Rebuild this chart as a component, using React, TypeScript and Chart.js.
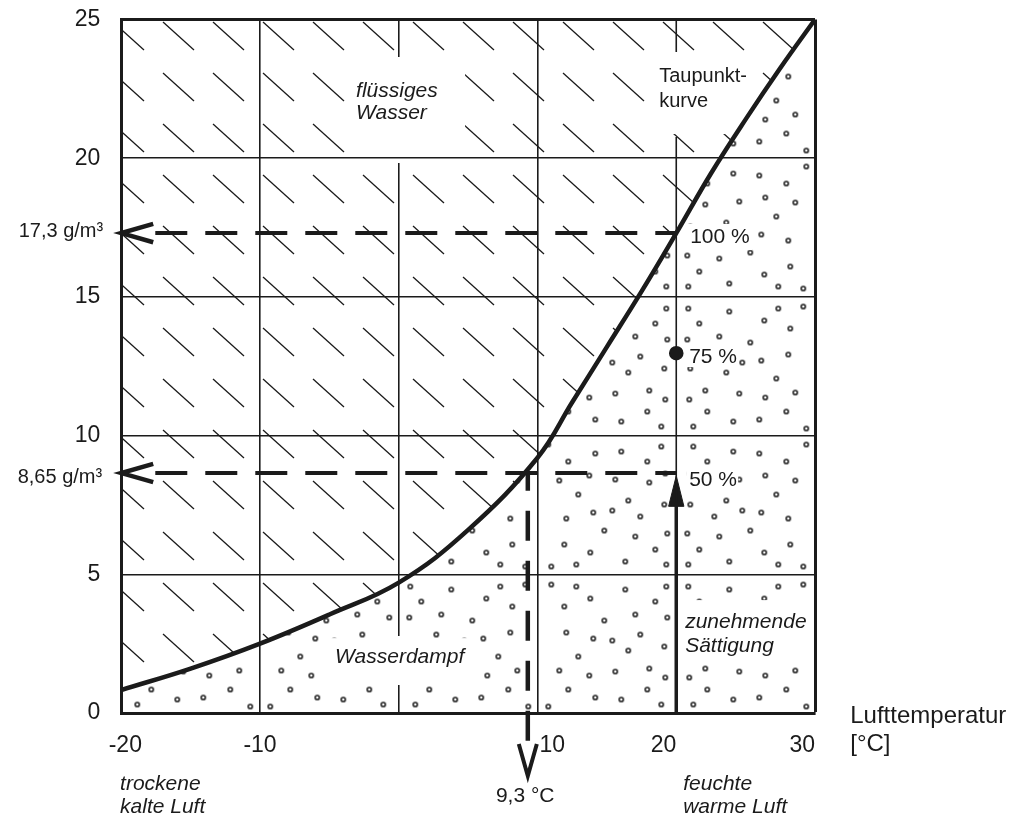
import React, { useEffect, useRef } from 'react';
import { Chart, registerables } from 'chart.js';

Chart.register(...registerables);

// ---- data ----
const curveTemps = [-20, -15, -10, -5, 0, 5, 10, 12.5, 15, 17.5, 20, 22.5, 25, 27.5, 30];
const curveDensity = [0.83, 1.6, 2.5, 3.55, 4.7, 6.6, 9.2, 11.2, 13.2, 15.2, 17.3, 19.45, 21.4, 23.25, 25];
const xTickValues = [-20, -10, 10, 20, 30];
const xTickLabels = ['-20', '-10', '10', '20', '30'];
const airTemp = 20;
const saturationDensity = 17.3;
const actualDensity = 8.65;
const dewPoint = 9.3;
const saturationLevels = [100, 75, 50];
const saturationValues = [17.3, 12.97, 8.65];

const ink = '#1b1b1b';
const FAM = '"Liberation Sans", Arial, Helvetica, sans-serif';
const reg = (s: number) => `${s}px ${FAM}`;
const ita = (s: number) => `italic ${s}px ${FAM}`;
const de = (v: number) => String(v).replace('.', ',');

// dot texture positions inside one 139x139 cell
const dotCell: [number, number][] = [
  [11, 11], [52, 14], [101, 11], [126, 9], [22, 26], [87, 23], [113, 31], [10, 42], [42, 39],
  [73, 45], [37, 59], [65, 65], [84, 63], [111, 57], [13, 71], [49, 75], [99, 81], [28, 93],
  [62, 96], [88, 100], [118, 95], [12, 102], [30, 114], [109, 114], [16, 129], [56, 124],
  [82, 122], [129, 131],
];

function makeHatch(ctx: CanvasRenderingContext2D) {
  const c = document.createElement('canvas');
  c.width = 50; c.height = 51;
  const g = c.getContext('2d')!;
  g.strokeStyle = ink; g.lineWidth = 1.3; g.lineCap = 'butt';
  g.beginPath(); g.moveTo(4, 3); g.lineTo(35, 31); g.stroke();
  return ctx.createPattern(c, 'repeat')!;
}

function makeDots(ctx: CanvasRenderingContext2D) {
  const S = 139;
  const c = document.createElement('canvas');
  c.width = S * 2; c.height = S * 2;
  const g = c.getContext('2d')!;
  g.strokeStyle = ink; g.lineWidth = 1.5;
  const variants = [
    [0, 0, false, false], [S, 0, true, false], [0, S, false, true], [S, S, true, true],
  ] as const;
  for (const [ox, oy, mx, my] of variants) {
    for (const [x, y] of dotCell) {
      const px = ox + (mx ? S - x : x);
      const py = oy + (my ? S - y : y);
      g.beginPath(); g.arc(px, py, 2.1, 0, Math.PI * 2); g.stroke();
    }
  }
  return ctx.createPattern(c, 'repeat')!;
}

// white areas around the labels (data units: x0, x1, y0, y1)
const clearBoxes: [number, number, number, number][] = [
  [-3.87, 4.78, 20.08, 23.65],
  [18.47, 25.4, 20.87, 23.72],
  [-5.31, 5.86, 1.08, 2.7],
  [20.49, 29.79, 1.84, 4.07],
  [20.64, 25.47, 16.69, 17.63],
  [20.71, 24.46, 12.47, 13.27],
  [20.71, 24.46, 8.04, 8.94],
];

export default function App() {
  const ref = useRef<HTMLCanvasElement>(null);
  useEffect(() => {
    const canvas = ref.current!;
    const ctx = canvas.getContext('2d')!;
    const hatch = makeHatch(ctx);
    const dots = makeDots(ctx);
    const curve = curveTemps.map((t, i) => ({ x: t, y: curveDensity[i] }));

    const seg = (pts: { x: number; y: number }[], extra: any = {}) => ({
      data: pts, borderColor: ink, backgroundColor: ink, pointRadius: 0, borderWidth: 1.6,
      fill: false, tension: 0, ...extra,
    });

    const datasets: any[] = [
      seg(curve, { borderWidth: 4.5, fill: 'start', backgroundColor: dots, tension: 0.4, order: 1 }),
      seg(curve, { borderWidth: 0, fill: 'end', backgroundColor: hatch, tension: 0.4, order: 20 }),
      // partial grid lines at 0 °C and 20 °C
      seg([{ x: 0, y: 25 }, { x: 0, y: 23.65 }], { order: 15 }),
      seg([{ x: 0, y: 19.83 }, { x: 0, y: 2.78 }], { order: 15 }),
      seg([{ x: 0, y: 1.01 }, { x: 0, y: 0 }], { order: 15 }),
      seg([{ x: airTemp, y: 25 }, { x: airTemp, y: 23.83 }], { order: 15 }),
      seg([{ x: airTemp, y: 20.76 }, { x: airTemp, y: 0 }], { order: 15 }),
      // dashed read-off lines
      seg([{ x: -17.55, y: saturationDensity }, { x: airTemp, y: saturationDensity }], { borderWidth: 4, borderDash: [32, 18], order: 3 }),
      seg([{ x: -17.55, y: actualDensity }, { x: airTemp, y: actualDensity }], { borderWidth: 4, borderDash: [32, 18], order: 3 }),
      seg([{ x: -17.7, y: saturationDensity + 0.33 }, { x: -20, y: saturationDensity }, { x: -17.7, y: saturationDensity - 0.33 }], { borderWidth: 4.5, borderJoinStyle: 'miter', clip: false, order: 3 }),
      seg([{ x: -17.7, y: actualDensity + 0.33 }, { x: -20, y: actualDensity }, { x: -17.7, y: actualDensity - 0.33 }], { borderWidth: 4.5, borderJoinStyle: 'miter', clip: false, order: 3 }),
      seg([{ x: dewPoint, y: -1.0 }, { x: dewPoint, y: actualDensity }], { borderWidth: 4.5, borderDash: [30, 20], clip: false, order: 3 }),
      seg([{ x: dewPoint - 0.65, y: -1.12 }, { x: dewPoint, y: -2.27 }, { x: dewPoint + 0.65, y: -1.12 }], { borderWidth: 4, borderJoinStyle: 'miter', clip: false, order: 3 }),
      // rising arrow at 20 °C
      seg([{ x: airTemp, y: 0 }, { x: airTemp, y: 7.6 }], { borderWidth: 3.5, order: 4 }),
      seg([{ x: airTemp - 0.55, y: 7.45 }, { x: airTemp, y: 8.55 }, { x: airTemp + 0.55, y: 7.45 }, { x: airTemp - 0.55, y: 7.45 }], { borderWidth: 1, fill: 'shape', order: 4 }),
      // 75 % point
      seg([{ x: airTemp, y: saturationValues[1] }], { pointRadius: 6.5, pointBackgroundColor: ink, pointBorderColor: ink, showLine: false, order: 2 }),
    ];

    const plugin = {
      id: 'annot',
      afterLayout(chart: any) {
        const a = chart.chartArea;
        hatch.setTransform(new DOMMatrix([1, 0, 0, 1, a.left + 37.7, a.top - 0.5]));
        dots.setTransform(new DOMMatrix([1, 0, 0, 1, a.left, a.top]));
      },
      beforeDatasetsDraw(chart: any) {
        const c = chart.ctx, X = chart.scales.x, Y = chart.scales.y;
        c.save();
        c.fillStyle = '#ffffff';
        for (const [x0, x1, y0, y1] of clearBoxes) {
          const l = X.getPixelForValue(x0), r = X.getPixelForValue(x1);
          const t = Y.getPixelForValue(y1), b = Y.getPixelForValue(y0);
          c.fillRect(l, t, r - l, b - t);
        }
        c.restore();
      },
      afterDatasetsDraw(chart: any) {
        const c = chart.ctx, X = chart.scales.x, Y = chart.scales.y;
        c.save();
        c.fillStyle = ink;
        c.textBaseline = 'alphabetic';
        const txt = (t: string, x: number, y: number, font: string, align: CanvasTextAlign = 'left', dx = 0) => {
          c.font = font; c.textAlign = align;
          c.fillText(t, X.getPixelForValue(x) + dx, Y.getPixelForValue(y));
        };
        // x tick labels
        const aligns: CanvasTextAlign[] = ['center', 'center', 'left', 'right', 'right'];
        const offs = [4, 0, 2, 0, 0];
        xTickValues.forEach((v, i) => txt(xTickLabels[i], v, -1.406, reg(23), aligns[i], offs[i]));
        txt('flüssiges', -3.08, 22.2, ita(21));
        txt('Wasser', -3.08, 21.41, ita(21));
        txt('Taupunkt-', 18.77, 22.75, reg(20));
        txt('kurve', 18.77, 21.84, reg(20));
        const pctY = [16.94, 12.62, 8.18];
        const pctX = [21.0, 20.93, 20.93];
        saturationLevels.forEach((p, i) => txt(`${p} %`, pctX[i], pctY[i], reg(21)));
        txt('Wasserdampf', -4.59, 1.8, ita(21));
        txt('zunehmende', 20.64, 3.06, ita(21));
        txt('Sättigung', 20.64, 2.2, ita(21));
        txt(`${de(saturationDensity)} g/m³`, -21.31, 17.16, reg(20), 'right');
        txt(`${de(actualDensity)} g/m³`, -21.38, 8.29, reg(20), 'right');
        txt('Lufttemperatur', 32.54, -0.36, reg(24));
        txt('[°C]', 32.54, -1.37, reg(24));
        txt('trockene', -20.09, -2.78, ita(21));
        txt('kalte Luft', -20.09, -3.6, ita(21));
        txt('feuchte', 20.5, -2.78, ita(21));
        txt('warme Luft', 20.5, -3.6, ita(21));
        txt(`${de(dewPoint)} °C`, 9.11, -3.21, reg(21), 'center');
        c.restore();
      },
    };

    const chart = new Chart(canvas, {
      type: 'line',
      data: { datasets },
      plugins: [plugin as any],
      options: {
        animation: false,
        responsive: true,
        maintainAspectRatio: false,
        events: [],
        layout: { padding: { top: 19.5, right: 213, left: 0, bottom: 0 } },
        plugins: {
          legend: { display: false },
          tooltip: { enabled: false },
          filler: { propagate: false, drawTime: 'beforeDatasetsDraw' } as any,
        },
        scales: {
          x: {
            type: 'linear', min: -20, max: 30,
            ticks: { stepSize: 10, display: false },
            grid: {
              drawTicks: false,
              color: (c: any) => (c.tick && (c.tick.value === 0 || c.tick.value === 20) ? 'rgba(0,0,0,0)' : ink),
              lineWidth: (c: any) => (c.tick && c.tick.value === 30 ? 3 : 1.6),
            },
            border: { display: true, width: 3, color: ink },
            afterFit: (s: any) => { s.height = 103; s.paddingLeft = 0; s.paddingRight = 0; },
          },
          y: {
            type: 'linear', min: 0, max: 25,
            ticks: { stepSize: 5, padding: 21, color: ink, font: { size: 23, family: FAM, lineHeight: 1 } },
            grid: {
              drawTicks: false,
              color: ink,
              lineWidth: (c: any) => (c.tick && c.tick.value === 25 ? 3 : 1.6),
            },
            border: { display: true, width: 3, color: ink },
            afterFit: (s: any) => { s.width = 121.3; s.paddingTop = 0; s.paddingBottom = 0; },
          },
        },
      } as any,
    });
    return () => chart.destroy();
  }, []);

  return (
    <div style={{ position: 'absolute', left: 0, top: 0, width: 1028, height: 816, background: '#fff' }}>
      <canvas ref={ref} />
    </div>
  );
}
